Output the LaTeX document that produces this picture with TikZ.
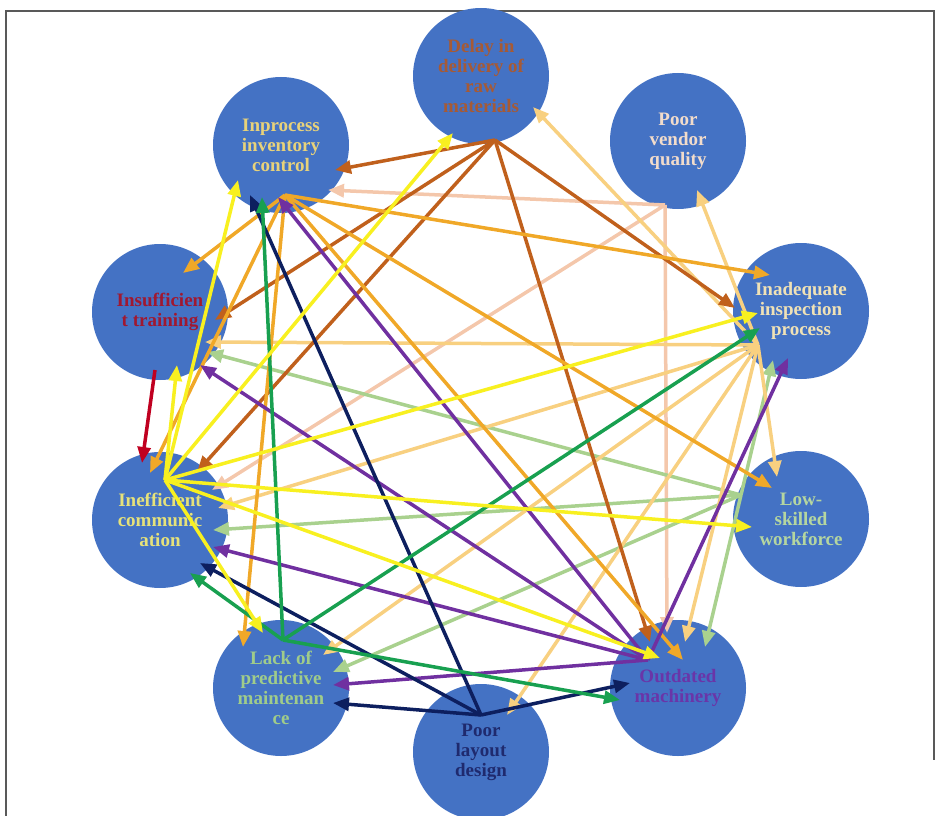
\documentclass[tikz,border=0pt]{standalone}
\usepackage{fontspec}
\setmainfont{Liberation Serif}
\usetikzlibrary{arrows.meta,calc}
\definecolor{cblue}{HTML}{4472C4}
\definecolor{cbrown}{HTML}{C0601C}
\definecolor{corange}{HTML}{F0A828}
\definecolor{cyellow}{HTML}{F8F020}
\definecolor{cwheat}{HTML}{F8D080}
\definecolor{clgreen}{HTML}{A9D18E}
\definecolor{cpurple}{HTML}{7030A0}
\definecolor{cnavy}{HTML}{0D1F5F}
\definecolor{cgreen}{HTML}{18A050}
\definecolor{cpeach}{HTML}{F4C7AB}
\definecolor{cred}{HTML}{C00020}
\definecolor{tbrown}{HTML}{A65A35}
\definecolor{tgold}{HTML}{E8D27A}
\definecolor{tvendor}{HTML}{F2DCCB}
\definecolor{tred}{HTML}{A01830}
\definecolor{tinad}{HTML}{F0E2B6}
\definecolor{tineff}{HTML}{E6E27A}
\definecolor{tlgreen}{HTML}{B5D6A0}
\definecolor{tlack}{HTML}{A0CC8A}
\definecolor{tnavy}{HTML}{1F2A6E}
\definecolor{tpurple}{HTML}{6A35A8}
\begin{document}
\begin{tikzpicture}[x=1pt,y=-1pt,
  bubble/.style={circle,fill=cblue,minimum size=136pt,inner sep=0pt,align=center,
    font=\fontsize{19}{20}\selectfont\bfseries},
  arr/.style={line width=3.5pt,-{Triangle[length=16pt,width=13pt]}},
  frame/.style={draw=black!65,line width=2pt}]
\useasboundingbox (0,0) rectangle (940,816);
\begin{scope}
\clip (0,0) rectangle (940,816);
\draw[frame] (6,816) -- (6,11) -- (934,11) -- (934,760);
\node[bubble,text=tbrown]  (D) at (481,76)  {Delay in\\delivery of\\raw\\materials};
\node[bubble,text=tgold]   (I) at (281,145) {Inprocess\\inventory\\control};
\node[bubble,text=tvendor] (V) at (678,141) {Poor\\vendor\\quality};
\node[bubble,text=tred]    (T) at (160,312) {Insufficien\\t training};
\node[bubble,text=tinad]   (A) at (801,311) {Inadequate\\inspection\\process};
\node[bubble,text=tineff]  (C) at (160,520) {Inefficient\\communic\\ation};
\node[bubble,text=tlgreen] (L) at (801,519) {Low-\\skilled\\workforce};
\node[bubble,text=tlack]   (M) at (281,688) {Lack of\\predictive\\maintenan\\ce};
\node[bubble,text=tnavy]   (P) at (481,752) {Poor\\layout\\design};
\node[bubble,text=tpurple] (O) at (678,688) {Outdated\\machinery};
\end{scope}
% hubs
\coordinate (Dh) at ($(D)+(14,64)$);
\coordinate (Ih) at ($(I)+(4,50)$);
\coordinate (Vh) at ($(V)+(-13,64)$);
\coordinate (Ah) at ($(A)+(-43,34)$);
\coordinate (Lh) at ($(L)+(-60,-24)$);
\coordinate (Ch) at ($(C)+(5,-40)$);
\coordinate (Mh) at ($(M)+(2,-48)$);
\coordinate (Ph) at ($(P)+(0,-37)$);
\coordinate (Oh) at ($(O)+(-30,-28)$);
\coordinate (Th) at ($(T)+(-5,58)$);
% peach (vendor)
\draw[arr,cpeach] (Vh) -- ($(I)+(47,45)$);
\draw[arr,cpeach] (Vh) -- ($(C)+(52,-30)$);
\draw[arr,cpeach] (Vh) -- ($(O)+(-11,-55)$);
% light green (low-skilled)
\draw[arr,clgreen] (Lh) -- ($(A)+(-28,49)$);
\draw[arr,clgreen] (Lh) -- ($(O)+(27,-41)$);
\draw[arr,clgreen] (Lh) -- ($(C)+(53,10)$);
\draw[arr,clgreen] (Lh) -- ($(T)+(47,40)$);
\draw[arr,clgreen] (Lh) -- ($(M)+(52,-16)$);
% wheat (inadequate)
\draw[arr,cwheat] (Ah) -- ($(D)+(52,31)$);
\draw[arr,cwheat] (Ah) -- ($(V)+(19,49)$);
\draw[arr,cwheat] (Ah) -- ($(T)+(45,30)$);
\draw[arr,cwheat] (Ah) -- ($(C)+(58,-12)$);
\draw[arr,cwheat] (Ah) -- ($(M)+(42,-33)$);
\draw[arr,cwheat] (Ah) -- ($(O)+(7,-46)$);
\draw[arr,cwheat] (Ah) -- ($(L)+(-24,-42)$);
\draw[arr,cwheat] (Ah) -- ($(P)+(26,-37)$);
% brown (delay)
\draw[arr,cbrown] (Dh) -- ($(I)+(54,25)$);
\draw[arr,cbrown] (Dh) -- ($(A)+(-66,-3)$);
\draw[arr,cbrown] (Dh) -- ($(O)+(-28,-46)$);
\draw[arr,cbrown] (Dh) -- ($(T)+(55,8)$);
\draw[arr,cbrown] (Dh) -- ($(C)+(37,-48)$);
% orange (inprocess)
\draw[arr,corange] (Ih) -- ($(A)+(-31,-36)$);
\draw[arr,corange] (Ih) -- ($(T)+(23,-39)$);
\draw[arr,corange] (Ih) -- ($(L)+(-29,-31)$);
\draw[arr,corange] (Ih) -- ($(O)+(5,-28)$);
\draw[arr,corange] (Ih) -- ($(M)+(-38,-41)$);
\draw[arr,corange] (Ih) -- ($(C)+(-10,-47)$);
% purple (outdated)
\draw[arr,cpurple] (Oh) -- ($(A)+(-13,47)$);
\draw[arr,cpurple] (Oh) -- ($(M)+(52,-3)$);
\draw[arr,cpurple] (Oh) -- ($(C)+(53,27)$);
\draw[arr,cpurple] (Oh) -- ($(T)+(40,53)$);
\draw[arr,cpurple] (Oh) -- ($(I)+(-3,52)$);
% navy (layout)
\draw[arr,cnavy] (Ph) -- ($(I)+(-31,50)$);
\draw[arr,cnavy] (Ph) -- ($(C)+(40,43)$);
\draw[arr,cnavy] (Ph) -- ($(M)+(52,15)$);
\draw[arr,cnavy] (Ph) -- ($(O)+(-48,-5)$);
% green (maintenance)
\draw[arr,cgreen] (Mh) -- ($(I)+(-19,52)$);
\draw[arr,cgreen] (Mh) -- ($(A)+(-41,17)$);
\draw[arr,cgreen] (Mh) -- ($(C)+(30,53)$);
\draw[arr,cgreen] (Mh) -- ($(O)+(-58,12)$);
% yellow (communication)
\draw[arr,cyellow] (Ch) -- ($(I)+(-43,35)$);
\draw[arr,cyellow] (Ch) -- ($(D)+(-28,57)$);
\draw[arr,cyellow] (Ch) -- ($(T)+(17,53)$);
\draw[arr,cyellow] (Ch) -- ($(A)+(-43,2)$);
\draw[arr,cyellow] (Ch) -- ($(L)+(-49,8)$);
\draw[arr,cyellow] (Ch) -- ($(O)+(-18,-30)$);
\draw[arr,cyellow] (Ch) -- ($(M)+(-18,-55)$);
% red (training)
\draw[arr,cred] (Th) -- ($(C)+(-18,-57)$);
\end{tikzpicture}
\end{document}
